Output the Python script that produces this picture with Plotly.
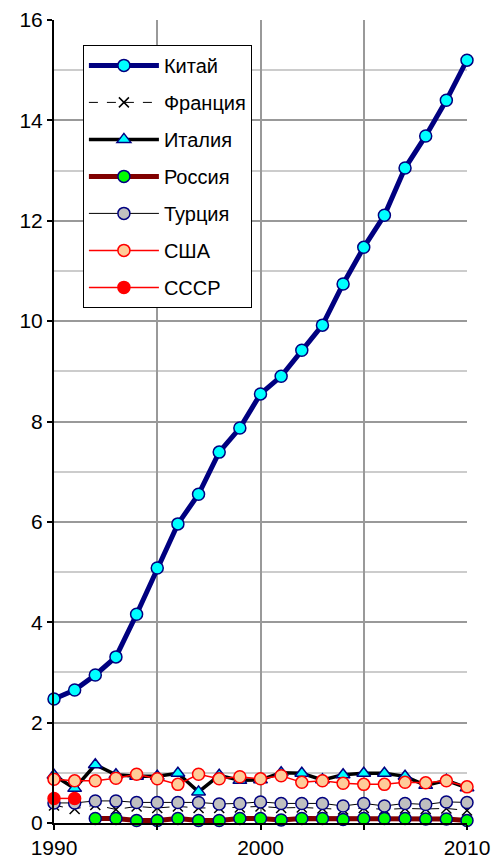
import plotly.graph_objects as go

years = list(range(1990, 2011))

china = [2.47, 2.65, 2.95, 3.31, 4.16, 5.08, 5.96, 6.55, 7.39, 7.87, 8.55,
         8.90, 9.42, 9.92, 10.74, 11.47, 12.11, 13.05, 13.69, 14.40, 15.20]
france = [0.35, 0.28, 0.36, 0.27, 0.33, 0.30, 0.33, 0.30, 0.30, 0.31, 0.33,
          0.30, 0.31, 0.29, 0.27, 0.30, 0.27, 0.29, 0.28, 0.29, 0.25]
italy = [0.95, 0.69, 1.16, 0.96, 0.93, 0.93, 0.99, 0.62, 0.95, 0.85, 0.86,
         1.00, 0.99, 0.86, 0.96, 0.99, 0.99, 0.93, 0.75, 0.85, 0.70]
russia_years = list(range(1992, 2011))
russia = [0.09, 0.09, 0.05, 0.05, 0.09, 0.05, 0.05, 0.09, 0.09, 0.06,
          0.09, 0.09, 0.07, 0.09, 0.09, 0.09, 0.08, 0.08, 0.05]
turkey = [0.40, 0.40, 0.44, 0.44, 0.41, 0.41, 0.41, 0.41, 0.38, 0.39, 0.42,
          0.39, 0.39, 0.39, 0.34, 0.39, 0.34, 0.39, 0.37, 0.42, 0.41]
usa = [0.87, 0.84, 0.84, 0.89, 0.97, 0.88, 0.77, 0.97, 0.88, 0.92, 0.88,
       0.94, 0.81, 0.84, 0.79, 0.77, 0.77, 0.81, 0.80, 0.84, 0.72]
ussr_years = [1990, 1991]
ussr = [0.49, 0.49]

x_tickvals = [1990, 1995, 2000, 2005, 2010]
x_ticktext = ["1990", "", "2000", "", "2010"]
y_tickvals = [0, 2, 4, 6, 8, 10, 12, 14, 16]

NAVY = "#000080"

fig = go.Figure()
fig.add_trace(go.Scatter(x=years, y=china, name="Китай", mode="lines+markers",
                         line=dict(color=NAVY, width=5),
                         marker=dict(symbol="circle", size=12, color="#00FFFF",
                                     line=dict(color=NAVY, width=1.5))))
fig.add_trace(go.Scatter(x=years, y=france, name="Франция", mode="lines+markers",
                         line=dict(color="black", width=1, dash="dash"),
                         marker=dict(symbol="x-thin", size=10, color="black",
                                     line=dict(color="black", width=1.5))))
fig.add_trace(go.Scatter(x=years, y=italy, name="Италия", mode="lines+markers",
                         line=dict(color="black", width=3.5),
                         marker=dict(symbol="triangle-up", size=12, color="#00FFFF",
                                     line=dict(color=NAVY, width=1.5))))
fig.add_trace(go.Scatter(x=russia_years, y=russia, name="Россия", mode="lines+markers",
                         line=dict(color="#800000", width=5),
                         marker=dict(symbol="circle", size=12, color="#00FF00",
                                     line=dict(color=NAVY, width=1.5))))
fig.add_trace(go.Scatter(x=years, y=turkey, name="Турция", mode="lines+markers",
                         line=dict(color="black", width=1),
                         marker=dict(symbol="circle", size=12, color="#C0C0C0",
                                     line=dict(color=NAVY, width=1.5))))
fig.add_trace(go.Scatter(x=years, y=usa, name="США", mode="lines+markers",
                         line=dict(color="#FF0000", width=1.5),
                         marker=dict(symbol="circle", size=12, color="#FFCC99",
                                     line=dict(color="#FF0000", width=1.5))))
fig.add_trace(go.Scatter(x=ussr_years, y=ussr, name="СССР", mode="lines+markers",
                         line=dict(color="#FF0000", width=1.5),
                         marker=dict(symbol="circle", size=12, color="#FF0000",
                                     line=dict(color="#FF0000", width=1.5))))

for i, tr in enumerate(fig.data):
    tr.legendgroup = f"g{i}"
    tr.cliponaxis = False

fig.update_layout(
    width=494, height=859,
    margin=dict(l=54, r=27, t=20, b=36, autoexpand=False),
    paper_bgcolor="white", plot_bgcolor="white",
    font=dict(family="Liberation Sans, Arial, sans-serif", size=21, color="black"),
    showlegend=True,
    legend=dict(x=0.07, y=0.969, xanchor="left", yanchor="top",
                bgcolor="white", bordercolor="black", borderwidth=1,
                font=dict(size=20), tracegroupgap=8, itemwidth=70),
    xaxis=dict(range=[1990, 2010], tickvals=x_tickvals, ticktext=x_ticktext,
               showgrid=True, gridcolor="#999999", gridwidth=2,
               showline=True, linecolor="black", linewidth=2,
               ticks="outside", ticklen=5, tickwidth=2, tickcolor="black",
               zeroline=False, automargin=False),
    yaxis=dict(range=[0, 16], tickvals=y_tickvals,
               showgrid=True, gridcolor="#999999", gridwidth=2,
               minor=dict(dtick=1, showgrid=True, gridcolor="#CCCCCC", gridwidth=2),
               showline=True, linecolor="black", linewidth=2,
               ticks="outside", ticklen=5, tickwidth=2, tickcolor="black",
               zeroline=False, automargin=False),
)

fig.write_html("out.html", config={"displayModeBar": False},
               post_script="document.body.style.margin='0';document.body.style.overflow='hidden';")
